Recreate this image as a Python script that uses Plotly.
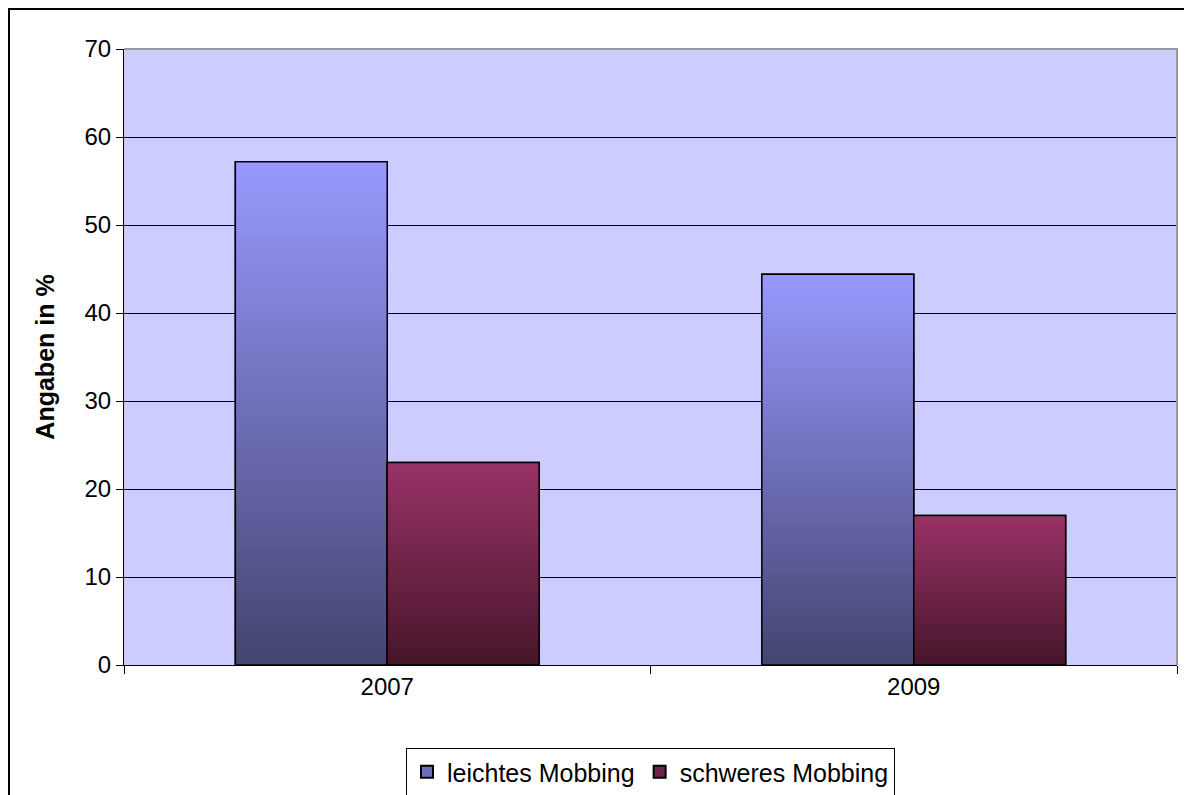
import plotly.graph_objects as go

# ---- data ----
years = ["2007", "2009"]
leichtes = [57.2, 44.4]
schweres = [23.0, 17.0]
series_names = ["leichtes Mobbing", "schweres Mobbing"]
y_title = "Angaben in %"

# gradient colours (top, bottom) per series
grad = {
    "leichtes Mobbing": ((153, 153, 255), (68, 68, 112)),
    "schweres Mobbing": ((153, 51, 102), (70, 22, 42)),
}

N = 60
fig = go.Figure()


def rgb(c):
    return "rgb(%d,%d,%d)" % tuple(int(round(v)) for v in c)


def mix(a, b, t):
    return tuple(a[k] + (b[k] - a[k]) * t for k in range(3))


for gi, (name, vals) in enumerate(zip(series_names, [leichtes, schweres])):
    top, bot = grad[name]
    mid = mix(top, bot, 0.5)
    # base bar (legend entry)
    fig.add_trace(go.Bar(
        x=years, y=vals, name=name, offsetgroup=str(gi),
        marker=dict(color=rgb(mid), line=dict(color="black", width=1.5)),
        showlegend=True, hoverinfo="skip"))
    # gradient: tallest first, each shorter bar drawn over it
    for k in range(N - 1, -1, -1):
        t = (k + 0.5) / N  # 0 at bottom -> 1 at top
        col = mix(bot, top, t)
        fig.add_trace(go.Bar(
            x=years, y=[v * (k + 1) / N for v in vals],
            offsetgroup=str(gi), marker=dict(color=rgb(col), line=dict(width=0)),
            showlegend=False, hoverinfo="skip"))
    # outline
    fig.add_trace(go.Bar(
        x=years, y=vals, offsetgroup=str(gi),
        marker=dict(color="rgba(0,0,0,0)", line=dict(color="black", width=1.5)),
        showlegend=False, hovertemplate="%{x}: %{y}<extra>" + name + "</extra>"))

font = "Liberation Sans, Arial, sans-serif"
L, T, R, B = 116, 41, 23, 138
PW, PH = 1192 - L - R, 795 - T - B
fig.update_layout(
    width=1192, height=795,
    margin=dict(l=L, r=R, t=T, b=B, autoexpand=False),
    paper_bgcolor="white", plot_bgcolor="#CCCCFF",
    barmode="group", bargap=0.423, bargroupgap=0,
    font=dict(family=font, size=24, color="black"),
    showlegend=True,
    legend=dict(orientation="h", x=0.5, xanchor="center", xref="paper",
                y=(795 - 740) / 795, yanchor="top", yref="container",
                bordercolor="black", borderwidth=1, font=dict(size=25),
                itemsizing="constant", traceorder="normal"),
    xaxis=dict(type="category", showline=True, linecolor="black", linewidth=1,
               ticks="outside", ticklen=8, tickcolor="black", tickson="boundaries",
               showgrid=False, tickfont=dict(size=24)),
    yaxis=dict(range=[0, 70], dtick=10, showline=True, linecolor="black", linewidth=1,
               ticks="outside", ticklen=7, tickcolor="black",
               showgrid=True, gridcolor="black", gridwidth=1, zeroline=False,
               tickfont=dict(size=24),
               title=dict(text="<b>" + y_title + "</b>", font=dict(size=25), standoff=22)),
    shapes=[
        dict(type="path", xref="paper", yref="paper", path="M 0,1 L 1,1 L 1,0",
             line=dict(color="#999999", width=2), layer="above"),
        dict(type="rect", xref="paper", yref="paper",
             x0=(1 - L) / PW, x1=(1192 - L) / PW, y0=-(B + 10) / PH, y1=(PH + T - 1) / PH,
             line=dict(color="black", width=2), fillcolor="rgba(0,0,0,0)", layer="below"),
    ],
)

fig.write_html("out.html")
